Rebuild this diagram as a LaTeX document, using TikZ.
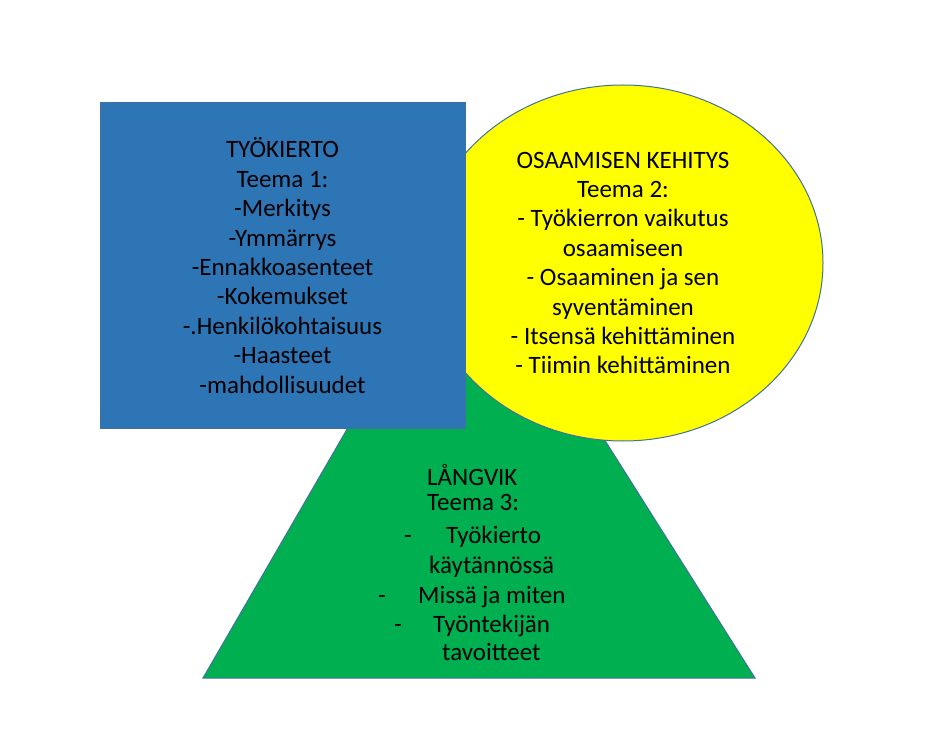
\documentclass[tikz,border=0pt]{standalone}
\usepackage{fontspec}
\setmainfont{Carlito}
\usetikzlibrary{shapes.geometric}
\definecolor{boxblue}{HTML}{2E75B6}
\definecolor{edgeblue}{HTML}{41719C}
\definecolor{ovalyellow}{HTML}{FFFF00}
\definecolor{trigreen}{HTML}{00B050}

\begin{document}
\begin{tikzpicture}[x=1pt,y=-1pt,font=\fontsize{25}{29.4}\selectfont]
    \tikzset{
        theme/.style={draw=edgeblue,line width=1pt},
        themebox/.style={
            theme,fill=boxblue,inner sep=0pt,
            minimum width=365pt,minimum height=325pt,align=center
        },
        themeoval/.style={
            theme,ellipse,fill=ovalyellow,inner sep=0pt,
            minimum width=400pt,minimum height=356pt,align=center
        },
        tritext/.style={anchor=base west,inner sep=0pt},
        dashmark/.style={anchor=base,inner sep=0pt}
    }
    \useasboundingbox (0,0) rectangle (948,735);

    % Teema 3
    \coordinate (apex) at (467,222);
    \coordinate (baseL) at (203,678);
    \coordinate (baseR) at (755,678);
    \path[theme,fill=trigreen] (apex) -- (baseR) -- (baseL) -- cycle;

    \node[tritext] (langvik) at (427,485) {LÅNGVIK};
    \node[tritext] (teema3) at (427,510) {Teema 3:};
    \node[dashmark] (dash1) at (408,543) {-};
    \node[tritext] (item1a) at (446,543) {Työkierto};
    \node[tritext] (item1b) at (429,573) {käytännössä};
    \node[dashmark] (dash2) at (382,603) {-};
    \node[tritext] (item2) at (418,603) {Missä ja miten};
    \node[dashmark] (dash3) at (398,632) {-};
    \node[tritext] (item3a) at (433,632) {Työntekijän};
    \node[tritext] (item3b) at (442,660) {tavoitteet};

    % Teema 2
    \node[themeoval] (osaaminen) at (623,263)
        {OSAAMISEN KEHITYS\\
         Teema 2:\\
         - Työkierron vaikutus\\
         osaamiseen\\
         - Osaaminen ja sen\\
         syventäminen\\
         - Itsensä kehittäminen\\
         - Tiimin kehittäminen};

    % Teema 1
    \node[themebox] (tyokierto) at (282.5,265.5)
        {TYÖKIERTO\\
         Teema 1:\\
         -Merkitys\\
         -Ymmärrys\\
         -Ennakkoasenteet\\
         -Kokemukset\\
         -.Henkilökohtaisuus\\
         -Haasteet\\
         -mahdollisuudet};
\end{tikzpicture}
\end{document}
